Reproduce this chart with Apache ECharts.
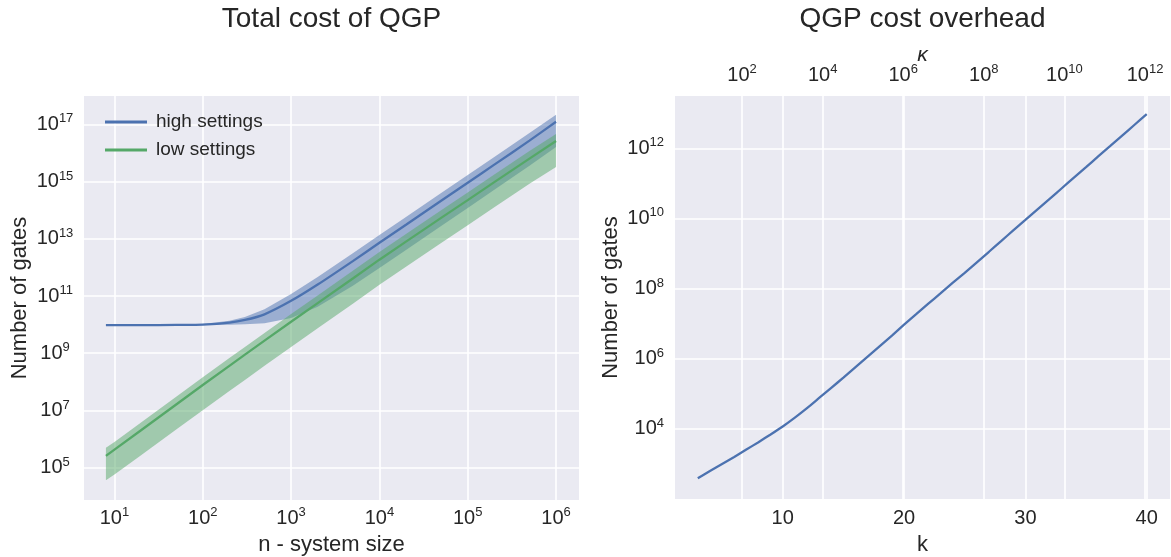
<!DOCTYPE html>
<html>
<head>
<meta charset="utf-8">
<script src="https://cdn.jsdelivr.net/npm/echarts@6/dist/echarts.min.js"></script>
<style>
  html, body { margin: 0; padding: 0; background: #ffffff; }
  #chart { width: 1171px; height: 557px; }
</style>
</head>
<body>
<div id="chart"></div>
<script>
// ---- Total cost of QGP: gate counts against system size n ----
const systemSize = [8, 10, 20, 50, 100, 200, 300, 500, 1e3, 2e3, 5e3, 1e4, 2e4, 5e4, 1e5, 2e5, 5e5, 1e6];

const highGates = [9.55e9, 9.55e9, 9.55e9, 9.77e9, 1.00e10, 1.17e10, 1.45e10, 2.29e10, 6.76e10,
  2.51e11, 1.66e12, 7.24e12, 3.09e13, 2.14e14, 9.12e14, 3.89e15, 2.69e16, 1.23e17];
const highUpper = [9.66e9, 9.66e9, 9.66e9, 9.89e9, 1.04e10, 1.36e10, 1.86e10, 3.47e10, 1.17e11,
  4.57e11, 3.09e12, 1.35e13, 5.75e13, 3.98e14, 1.70e15, 7.24e15, 5.01e16, 2.14e17];
const highLower = [9.55e9, 9.55e9, 9.55e9, 9.55e9, 9.62e9, 9.84e9, 1.02e10, 1.12e10, 1.70e10,
  4.17e10, 2.29e11, 9.55e11, 4.07e12, 2.82e13, 1.20e14, 5.13e14, 3.55e15, 1.62e16];

const lowGates = [2.57e5, 4.27e5, 2.04e6, 1.62e7, 7.76e7, 3.63e8, 8.91e8, 2.75e9, 1.26e10,
  5.62e10, 4.07e11, 1.86e12, 7.94e12, 5.37e13, 2.24e14, 9.55e14, 6.31e15, 2.63e16];
const lowUpper = [5.01e5, 7.94e5, 3.80e6, 3.02e7, 1.45e8, 6.76e8, 1.66e9, 5.13e9, 2.34e10,
  1.05e11, 7.59e11, 3.47e12, 1.48e13, 1.00e14, 4.17e14, 1.78e15, 1.17e16, 4.57e16];
const lowLower = [3.63e4, 5.75e4, 2.69e5, 2.14e6, 1.02e7, 4.79e7, 1.17e8, 3.63e8, 1.66e9,
  7.41e9, 5.37e10, 2.45e11, 1.05e12, 7.08e12, 2.95e13, 1.26e14, 8.32e14, 3.24e15];

// ---- QGP cost overhead: gate counts against the parameter k ----
const kValues = [3, 4, 5, 6, 7, 8, 9, 10, 11, 12, 13, 14, 15, 16, 17, 18, 19, 20, 21, 22,
  23, 24, 25, 26, 27, 28, 29, 30, 31, 32, 33, 34, 35, 36, 37, 38, 39, 40];
const overheadGates = [3.89e2, 6.31e2, 1.00e3, 1.58e3, 2.57e3, 4.17e3, 6.92e3, 1.17e4, 2.09e4,
  3.89e4, 7.59e4, 1.48e5, 2.88e5, 5.75e5, 1.15e6, 2.29e6, 4.57e6, 9.33e6, 1.86e7, 3.72e7,
  7.24e7, 1.45e8, 2.82e8, 5.62e8, 1.12e9, 2.24e9, 4.57e9, 9.12e9, 1.82e10, 3.63e10,
  7.24e10, 1.45e11, 2.88e11, 5.89e11, 1.17e12, 2.34e12, 4.68e12, 9.33e12];

// ---- Tick values ----
const nTicks = [1e1, 1e2, 1e3, 1e4, 1e5, 1e6];
const totalTicks = [1e5, 1e7, 1e9, 1e11, 1e13, 1e15, 1e17];
const kTicks = [10, 20, 30, 40];
const kappaTicks = [1e2, 1e4, 1e6, 1e8, 1e10, 1e12];
const overheadTicks = [1e4, 1e6, 1e8, 1e10, 1e12];

const TEXT = '#262626';
const FONT = '"Liberation Sans", Arial, sans-serif';
const BLUE = '#4C72B0';
const GREEN = '#55A868';
const PANEL = '#EAEAF2';

const powRich = {
  b: { fontSize: 20, lineHeight: 24, color: TEXT, fontFamily: FONT },
  s: { fontSize: 13, lineHeight: 12, verticalAlign: 'top', color: TEXT, fontFamily: FONT }
};
function powLabel(v) {
  const e = Math.round(Math.log10(v));
  return '{b|10}{s|' + e + '}';
}
const gridLine = { show: true, lineStyle: { color: '#ffffff', width: 1.6 } };
const nameStyle = { fontSize: 22, color: TEXT, fontFamily: FONT, lineHeight: 24 };

function pairs(xs, ys) { return xs.map((x, i) => [x, ys[i]]); }

// Shaded range between two bounds, drawn as one polygon in data coordinates
function bandSeries(name, upper, lower, fill) {
  return {
    type: 'custom',
    name: name,
    xAxisIndex: 0,
    yAxisIndex: 0,
    silent: true,
    z: 1,
    clip: true,
    data: [[systemSize[0], upper[0]]],
    renderItem: function (params, api) {
      const pts = [];
      for (let i = 0; i < systemSize.length; i++) pts.push(api.coord([systemSize[i], upper[i]]));
      for (let i = systemSize.length - 1; i >= 0; i--) pts.push(api.coord([systemSize[i], lower[i]]));
      return { type: 'polygon', shape: { points: pts }, style: { fill: fill } };
    }
  };
}

const chart = echarts.init(document.getElementById('chart'), null, { renderer: 'canvas' });
chart.setOption({
  animation: false,
  backgroundColor: '#ffffff',
  textStyle: { fontFamily: FONT, color: TEXT },
  graphic: [
    { type: 'text', x: 331.5, y: 19, style: { text: 'Total cost of QGP', fill: TEXT,
      font: '28px "Liberation Sans", Arial, sans-serif', align: 'center', verticalAlign: 'middle' } },
    { type: 'text', x: 922.5, y: 19, style: { text: 'QGP cost overhead', fill: TEXT,
      font: '28px "Liberation Sans", Arial, sans-serif', align: 'center', verticalAlign: 'middle' } }
  ],
  legend: {
    data: ['high settings', 'low settings'],
    orient: 'vertical',
    left: 100,
    top: 107,
    icon: 'rect',
    itemWidth: 42,
    itemHeight: 3,
    itemGap: 8,
    textStyle: { fontSize: 19, color: TEXT, fontFamily: FONT, lineHeight: 20, padding: [0, 0, 0, 4] }
  },
  grid: [
    { left: 84, top: 96, width: 495, height: 404, show: true, backgroundColor: PANEL, borderWidth: 0, outerBoundsMode: 'none' },
    { left: 675, top: 96, width: 495, height: 403, show: true, backgroundColor: PANEL, borderWidth: 0, outerBoundsMode: 'none' }
  ],
  xAxis: [
    {
      type: 'log', gridIndex: 0, position: 'bottom',
      min: Math.pow(10, 0.655), max: Math.pow(10, 6.26),
      axisLine: { show: false },
      axisTick: { show: false, customValues: nTicks },
      axisLabel: { customValues: nTicks, formatter: powLabel, rich: powRich, margin: 6 },
      splitLine: gridLine,
      name: 'n - system size', nameLocation: 'middle', nameGap: 32, nameTextStyle: nameStyle
    },
    {
      type: 'value', gridIndex: 1, position: 'bottom',
      min: 1.12, max: 41.92,
      axisLine: { show: false },
      axisTick: { show: false, customValues: kTicks },
      axisLabel: { customValues: kTicks, fontSize: 20, color: TEXT, fontFamily: FONT, margin: 9 },
      splitLine: gridLine,
      name: 'k', nameLocation: 'middle', nameGap: 32, nameTextStyle: nameStyle
    },
    {
      // kappa = 2^k, shown on a log scale along the top edge
      type: 'log', gridIndex: 1, position: 'top',
      min: Math.pow(2, 1.12), max: Math.pow(2, 41.92),
      axisLine: { show: false },
      axisTick: { show: false, customValues: kappaTicks },
      axisLabel: { customValues: kappaTicks, formatter: powLabel, rich: powRich, margin: 9 },
      splitLine: gridLine,
      name: 'κ', nameLocation: 'middle', nameGap: 30, nameMoveOverlap: false,
      nameTextStyle: { fontSize: 21, color: TEXT, fontFamily: FONT, fontStyle: 'italic' }
    }
  ],
  yAxis: [
    {
      type: 'log', gridIndex: 0,
      min: Math.pow(10, 3.87), max: Math.pow(10, 17.99),
      axisLine: { show: false },
      axisTick: { show: false, customValues: totalTicks },
      axisLabel: { customValues: totalTicks, formatter: powLabel, rich: powRich, margin: 29, align: 'center' },
      splitLine: gridLine,
      name: 'Number of gates', nameLocation: 'middle', nameGap: 52, nameTextStyle: nameStyle
    },
    {
      type: 'log', gridIndex: 1,
      min: Math.pow(10, 2.0), max: Math.pow(10, 13.49),
      axisLine: { show: false },
      axisTick: { show: false, customValues: overheadTicks },
      axisLabel: { customValues: overheadTicks, formatter: powLabel, rich: powRich, margin: 11 },
      splitLine: gridLine,
      name: 'Number of gates', nameLocation: 'middle', nameGap: 52, nameTextStyle: nameStyle
    }
  ],
  series: [
    bandSeries('high settings range', highUpper, highLower, 'rgba(76,114,176,0.5)'),
    bandSeries('low settings range', lowUpper, lowLower, 'rgba(85,168,104,0.5)'),
    {
      type: 'line', name: 'high settings', xAxisIndex: 0, yAxisIndex: 0, z: 3,
      data: pairs(systemSize, highGates), showSymbol: false, smooth: 0.2,
      color: BLUE, lineStyle: { color: BLUE, width: 2.3 }
    },
    {
      type: 'line', name: 'low settings', xAxisIndex: 0, yAxisIndex: 0, z: 3,
      data: pairs(systemSize, lowGates), showSymbol: false,
      color: GREEN, lineStyle: { color: GREEN, width: 2.3 }
    },
    {
      type: 'line', name: 'overhead', xAxisIndex: 1, yAxisIndex: 1, z: 3,
      data: pairs(kValues, overheadGates), showSymbol: false, smooth: 0.2,
      color: BLUE, lineStyle: { color: BLUE, width: 2.3 }
    }
  ]
});
</script>
</body>
</html>
